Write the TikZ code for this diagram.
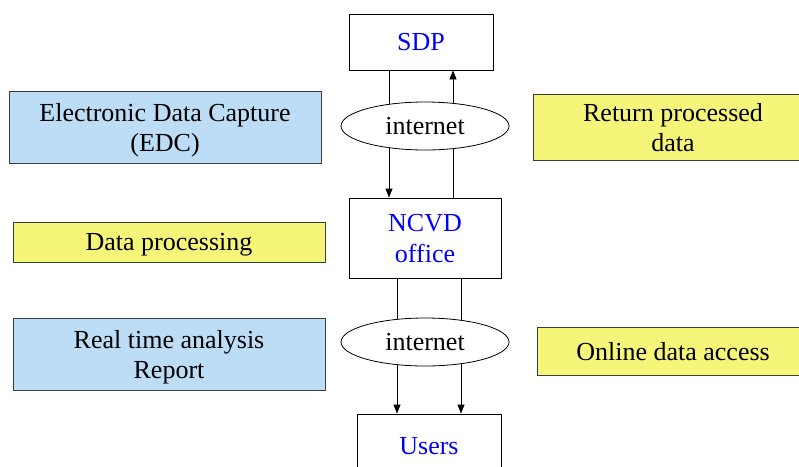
\documentclass[tikz,border=0pt]{standalone}
\usepackage{fontspec}
\setmainfont{Liberation Serif}
\newfontfamily\timesfont{Liberation Serif}
\usetikzlibrary{positioning, arrows.meta, shapes.geometric}
\definecolor{noteblue}{RGB}{189,220,245}
\definecolor{noteyellow}{RGB}{245,245,122}
\definecolor{siteblue}{RGB}{0,0,255}
\definecolor{edgegray}{RGB}{60,60,60}

\begin{document}
\begin{tikzpicture}[x=1pt, y=-1pt,
  site/.style={rectangle, draw=black, fill=white, line width=0.8pt,
               align=center, text=siteblue, inner sep=0pt, text depth=-3pt,
               font=\timesfont\fontsize{26}{31}\selectfont},
  net/.style={ellipse, draw=black, fill=white, line width=0.8pt,
              minimum width=168pt, minimum height=48pt, inner sep=0pt,
              text depth=-3pt, font=\timesfont\fontsize{26}{30}\selectfont},
  note/.style={rectangle, draw=edgegray, line width=0.8pt,
               align=center, inner sep=0pt, text depth=-3pt,
               font=\timesfont\fontsize{26}{30}\selectfont},
  bluenote/.style={note, fill=noteblue},
  yellownote/.style={note, fill=noteyellow},
  arr/.style={-{Triangle[length=9pt, width=7pt]}, line width=0.8pt}
]
\useasboundingbox (0,0) rectangle (799,466);
\clip (0,0) rectangle (799,466);

% Sites
\node[site, minimum width=144pt, minimum height=56pt] (sdp)   at (421, 42)  {SDP};
\node[site, minimum width=152pt, minimum height=80pt] (ncvd)  at (425,238)  {NCVD\\office};
\node[site, minimum width=144pt, minimum height=64pt] (users) at (429,446)  {Users};

% Notes
\node[bluenote,   minimum width=312pt, minimum height=72pt] (edc)    at (165,127) {Electronic Data Capture\\(EDC)};
\node[yellownote, minimum width=312pt, minimum height=40pt] (proc)   at (169,242) {Data processing};
\node[bluenote,   minimum width=312pt, minimum height=72pt] (report) at (169,354) {Real time analysis\\Report};
\node[yellownote, minimum width=280pt, minimum height=66pt] (ret)    at (673,127) {Return processed\\data};
\node[yellownote, minimum width=272pt, minimum height=48pt] (online) at (673,351) {Online data access};

% Line positions
\coordinate (upL)  at (389,0);
\coordinate (upR)  at (453,0);
\coordinate (lowL) at (397,0);
\coordinate (lowR) at (461,0);

% SDP <-> NCVD
\draw[arr] (sdp.south -| upL) -- (ncvd.north -| upL);
\draw[arr] (ncvd.north -| upR) -- (sdp.south -| upR);

% NCVD -> Users
\draw[arr] (ncvd.south -| lowL) -- (users.north -| lowL);
\draw[arr] (ncvd.south -| lowR) -- (users.north -| lowR);

% Internet
\node[net] (net1) at (425,126) {internet};
\node[net] (net2) at (425,342) {internet};

\end{tikzpicture}
\end{document}
